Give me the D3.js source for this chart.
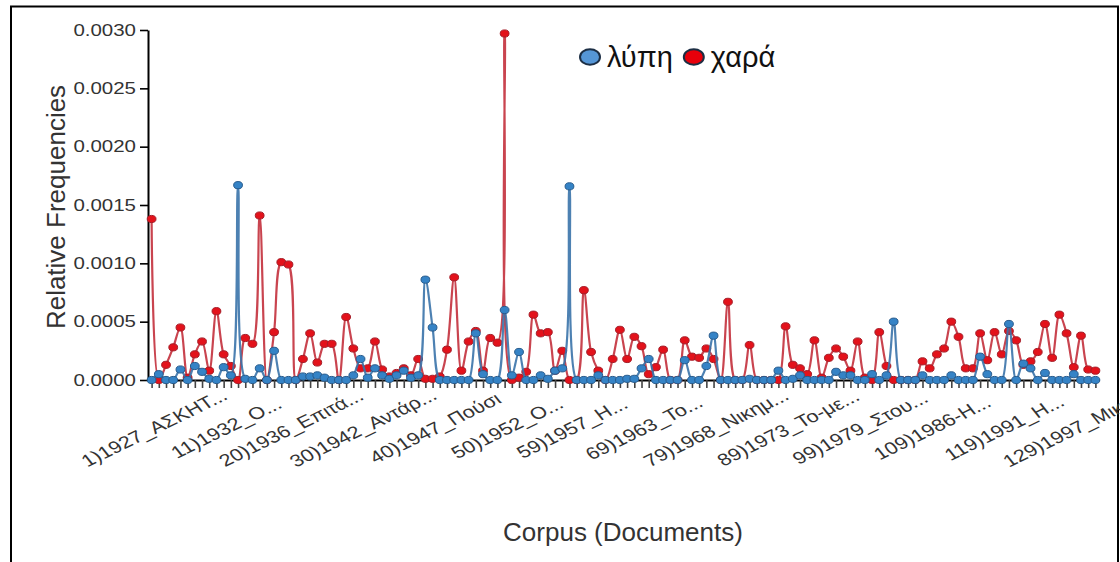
<!DOCTYPE html>
<html>
<head>
<meta charset="utf-8">
<script src="https://cdn.jsdelivr.net/npm/d3@7"></script>
<style>
body { margin: 0; background: #fff; }
svg { display: block; font-family: "Liberation Sans", Arial, sans-serif; }
</style>
</head>
<body>
<svg id="chart" width="1120" height="562"></svg>
<script>
// documents 1..132 of the corpus
const docs = d3.range(1, 133);

// only every ~10th document is labelled on the axis
const tickDocs = [1, 11, 20, 30, 40, 50, 59, 69, 79, 89, 99, 109, 119, 129];
const tickLabels = [
    "1)1927_ΑΣΚΗΤ...", "11)1932_Ο...", "20)1936_Επιτά...", "30)1942_Αντάρ...",
    "40)1947_Πούσι", "50)1952_Ο...", "59)1957_Η...", "69)1963_Το...",
    "79)1968_Νικημ...", "89)1973_Το-με...", "99)1979_Στου...", "109)1986-Η...",
    "119)1991_Η...", "129)1997_Μικρ..."
];

const yTicks = [0, 0.0005, 0.001, 0.0015, 0.002, 0.0025, 0.003];

// λύπη
const lypi = [
    0, 0.00005, 0, 0, 0.00009, 0, 0.00012, 0.00007, 0.00001, 0,
    0.00011, 0.00004, 0.00167, 0.00001, 0, 0.0001, 0, 0.00025, 0, 0,
    0, 0.00003, 0.00003, 0.00004, 0.00002, 0, 0, 0, 0.00004, 0.00018,
    0.00002, 0.0001, 0.00004, 0.00001, 0.00004, 0.00008, 0.00002, 0.00004, 0.00086, 0.00045,
    0, 0, 0, 0, 0, 0.0004, 0.00005, 0, 0, 0.0006,
    0.00004, 0.00024, 0, 0, 0.00004, 0.00001, 0.00008, 0.0001, 0.00166, 0,
    0, 0, 0.00004, 0, 0, 0, 0.00001, 0.00001, 0.0001, 0.00018,
    0, 0, 0, 0, 0.00017, 0, 0, 0.00012, 0.00038, 0,
    0, 0, 0, 0.00001, 0, 0, 0, 0.00008, 0, 0.00001,
    0.00004, 0, 0, 0, 0, 0.00007, 0.00004, 0.00004, 0, 0,
    0.00005, 0, 0.00004, 0.0005, 0, 0, 0, 0.00004, 0, 0,
    0, 0.00004, 0, 0, 0, 0.0002, 0.00005, 0, 0, 0.00048,
    0, 0.00014, 0.0001, 0, 0.00006, 0, 0, 0, 0.00005, 0,
    0, 0
];

// χαρά
const chara = [
    0.00138, 0, 0.00013, 0.00028, 0.00045, 0.00002, 0.00022, 0.00033, 0.00008, 0.00059,
    0.00022, 0.00012, 0, 0.00036, 0.00031, 0.00141, 0, 0.00041, 0.00101, 0.00099,
    0, 0.00018, 0.0004, 0.00015, 0.00031, 0.00031, 0, 0.00054, 0.00027, 0.0001,
    0.0001, 0.00033, 0.00009, 0.00003, 0.00006, 0.0001, 0.00004, 0.00018, 0.00001, 0.00001,
    0.00003, 0.00026, 0.00088, 0.00008, 0.00033, 0.00042, 0.00008, 0.00036, 0.00032, 0.00297,
    0, 0.00002, 0.00007, 0.00056, 0.0004, 0.00041, 0.00008, 0.00025, 0, 0,
    0.00077, 0.00024, 0.00008, 0, 0.00018, 0.00043, 0.00018, 0.00037, 0.00029, 0.00005,
    0.00011, 0.00026, 0, 0, 0.00034, 0.0002, 0.00019, 0.00027, 0.00018, 0,
    0.00067, 0, 0, 0.0003, 0, 0, 0, 0, 0.00046, 0.00013,
    0.0001, 0.00005, 0.00034, 0.00002, 0.00019, 0.00027, 0.0002, 0.00008, 0.00033, 0.00002,
    0, 0.00041, 0.00012, 0, 0, 0, 0, 0.00016, 0.0001, 0.00022,
    0.00027, 0.0005, 0.00037, 0.0001, 0.0001, 0.0004, 0.00017, 0.00041, 0.00022, 0.00042,
    0.00034, 0.00013, 0.00016, 0.00024, 0.00048, 0.00019, 0.00056, 0.0004, 0.00011, 0.00038,
    0.00009, 0.00008
];

const seriesNames = ["λύπη", "χαρά"];

const SX = 1.28; // the source picture is stretched sideways
const svg = d3.select("#chart");

const labelOf = new Map(tickDocs.map((d, i) => [d, tickLabels[i]]));

const x = d3.scalePoint().domain(docs).range([148, 1099]).padding(0.5);
const y = d3.scaleLinear().domain([0, 0.003]).range([380, 30]);

// frame
svg.append("rect")
    .attr("x", 11).attr("y", 6.5)
    .attr("width", 1107).attr("height", 600)
    .attr("fill", "none").attr("stroke", "#000").attr("stroke-width", 2);

// x axis
var gx = svg.append("g")
    .attr("transform", "translate(0,380)")
    .call(d3.axisBottom(x).tickSize(8).tickSizeOuter(0)
        .tickFormat(function(d){ return labelOf.get(d) || ""; }));
gx.attr("font-family", null).attr("font-size", null);
gx.select(".domain").attr("stroke", "#000").attr("stroke-width", 2);
gx.selectAll(".tick line").attr("stroke", "#444").attr("stroke-width", 1.6);
gx.selectAll(".tick text")
    .attr("y", 0).attr("dy", null)
    .attr("text-anchor", "middle")
    .attr("transform", "translate(6,53) scale(" + SX + ",1) rotate(-32)")
    .attr("fill", "#333")
    .style("font-size", "17px");

// y axis
var gy = svg.append("g")
    .attr("transform", "translate(148,0)")
    .call(d3.axisLeft(y).tickValues(yTicks).tickFormat(d3.format(".4f"))
        .tickSize(8).tickSizeOuter(0));
gy.attr("font-family", null).attr("font-size", null);
gy.select(".domain").attr("stroke", "#000").attr("stroke-width", 2);
gy.selectAll(".tick line").attr("stroke", "#000").attr("stroke-width", 1.6);
gy.selectAll(".tick text")
    .attr("x", -12 / SX)
    .attr("transform", "scale(" + SX + ",1)")
    .attr("fill", "#333")
    .style("font-size", "16px");

// axis titles
svg.append("text")
    .attr("transform", "translate(65,207) rotate(-90)")
    .attr("text-anchor", "middle")
    .attr("fill", "#333")
    .style("font-size", "26px")
    .text("Relative Frequencies");

svg.append("text")
    .attr("x", 623).attr("y", 541)
    .attr("text-anchor", "middle")
    .attr("fill", "#333")
    .style("font-size", "26px")
    .text("Corpus (Documents)");

// series, red first so the blue one sits on top
const series = [
    { name: seriesNames[1], values: chara, line: "#c3303c", fill: "#e3121b", ring: "#a51d28", key: "#e8000b" },
    { name: seriesNames[0], values: lypi,  line: "#3a73aa", fill: "#3583c6", ring: "#285b8c", key: "#5596d6" }
];

const line = d3.line()
    .x(function(d, i){ return x(docs[i]); })
    .y(function(d){ return y(d); })
    .curve(d3.curveCatmullRom);

series.forEach(function(s){
    svg.append("path")
        .datum(s.values)
        .attr("d", line)
        .attr("fill", "none")
        .attr("stroke", s.line)
        .attr("stroke-width", 2.2)
        .attr("stroke-opacity", 0.9);

    svg.append("g").selectAll("ellipse")
        .data(s.values)
        .enter().append("ellipse")
        .attr("cx", function(d, i){ return x(docs[i]); })
        .attr("cy", function(d){ return y(d); })
        .attr("rx", 4.4).attr("ry", 3.6)
        .attr("fill", s.fill)
        .attr("stroke", s.ring)
        .attr("stroke-width", 1);
});

// legend
var lx = 590;
[series[1], series[0]].forEach(function(s){
    svg.append("ellipse")
        .attr("cx", lx).attr("cy", 57)
        .attr("rx", 10).attr("ry", 7.8)
        .attr("fill", s.key)
        .attr("stroke", "#1c2e44").attr("stroke-width", 2);
    var t = svg.append("text")
        .attr("x", lx + 17).attr("y", 66.5)
        .attr("fill", "#111")
        .style("font-size", "29px")
        .text(s.name);
    lx = lx + 17 + t.node().getComputedTextLength() + 21;
});
</script>
</body>
</html>
